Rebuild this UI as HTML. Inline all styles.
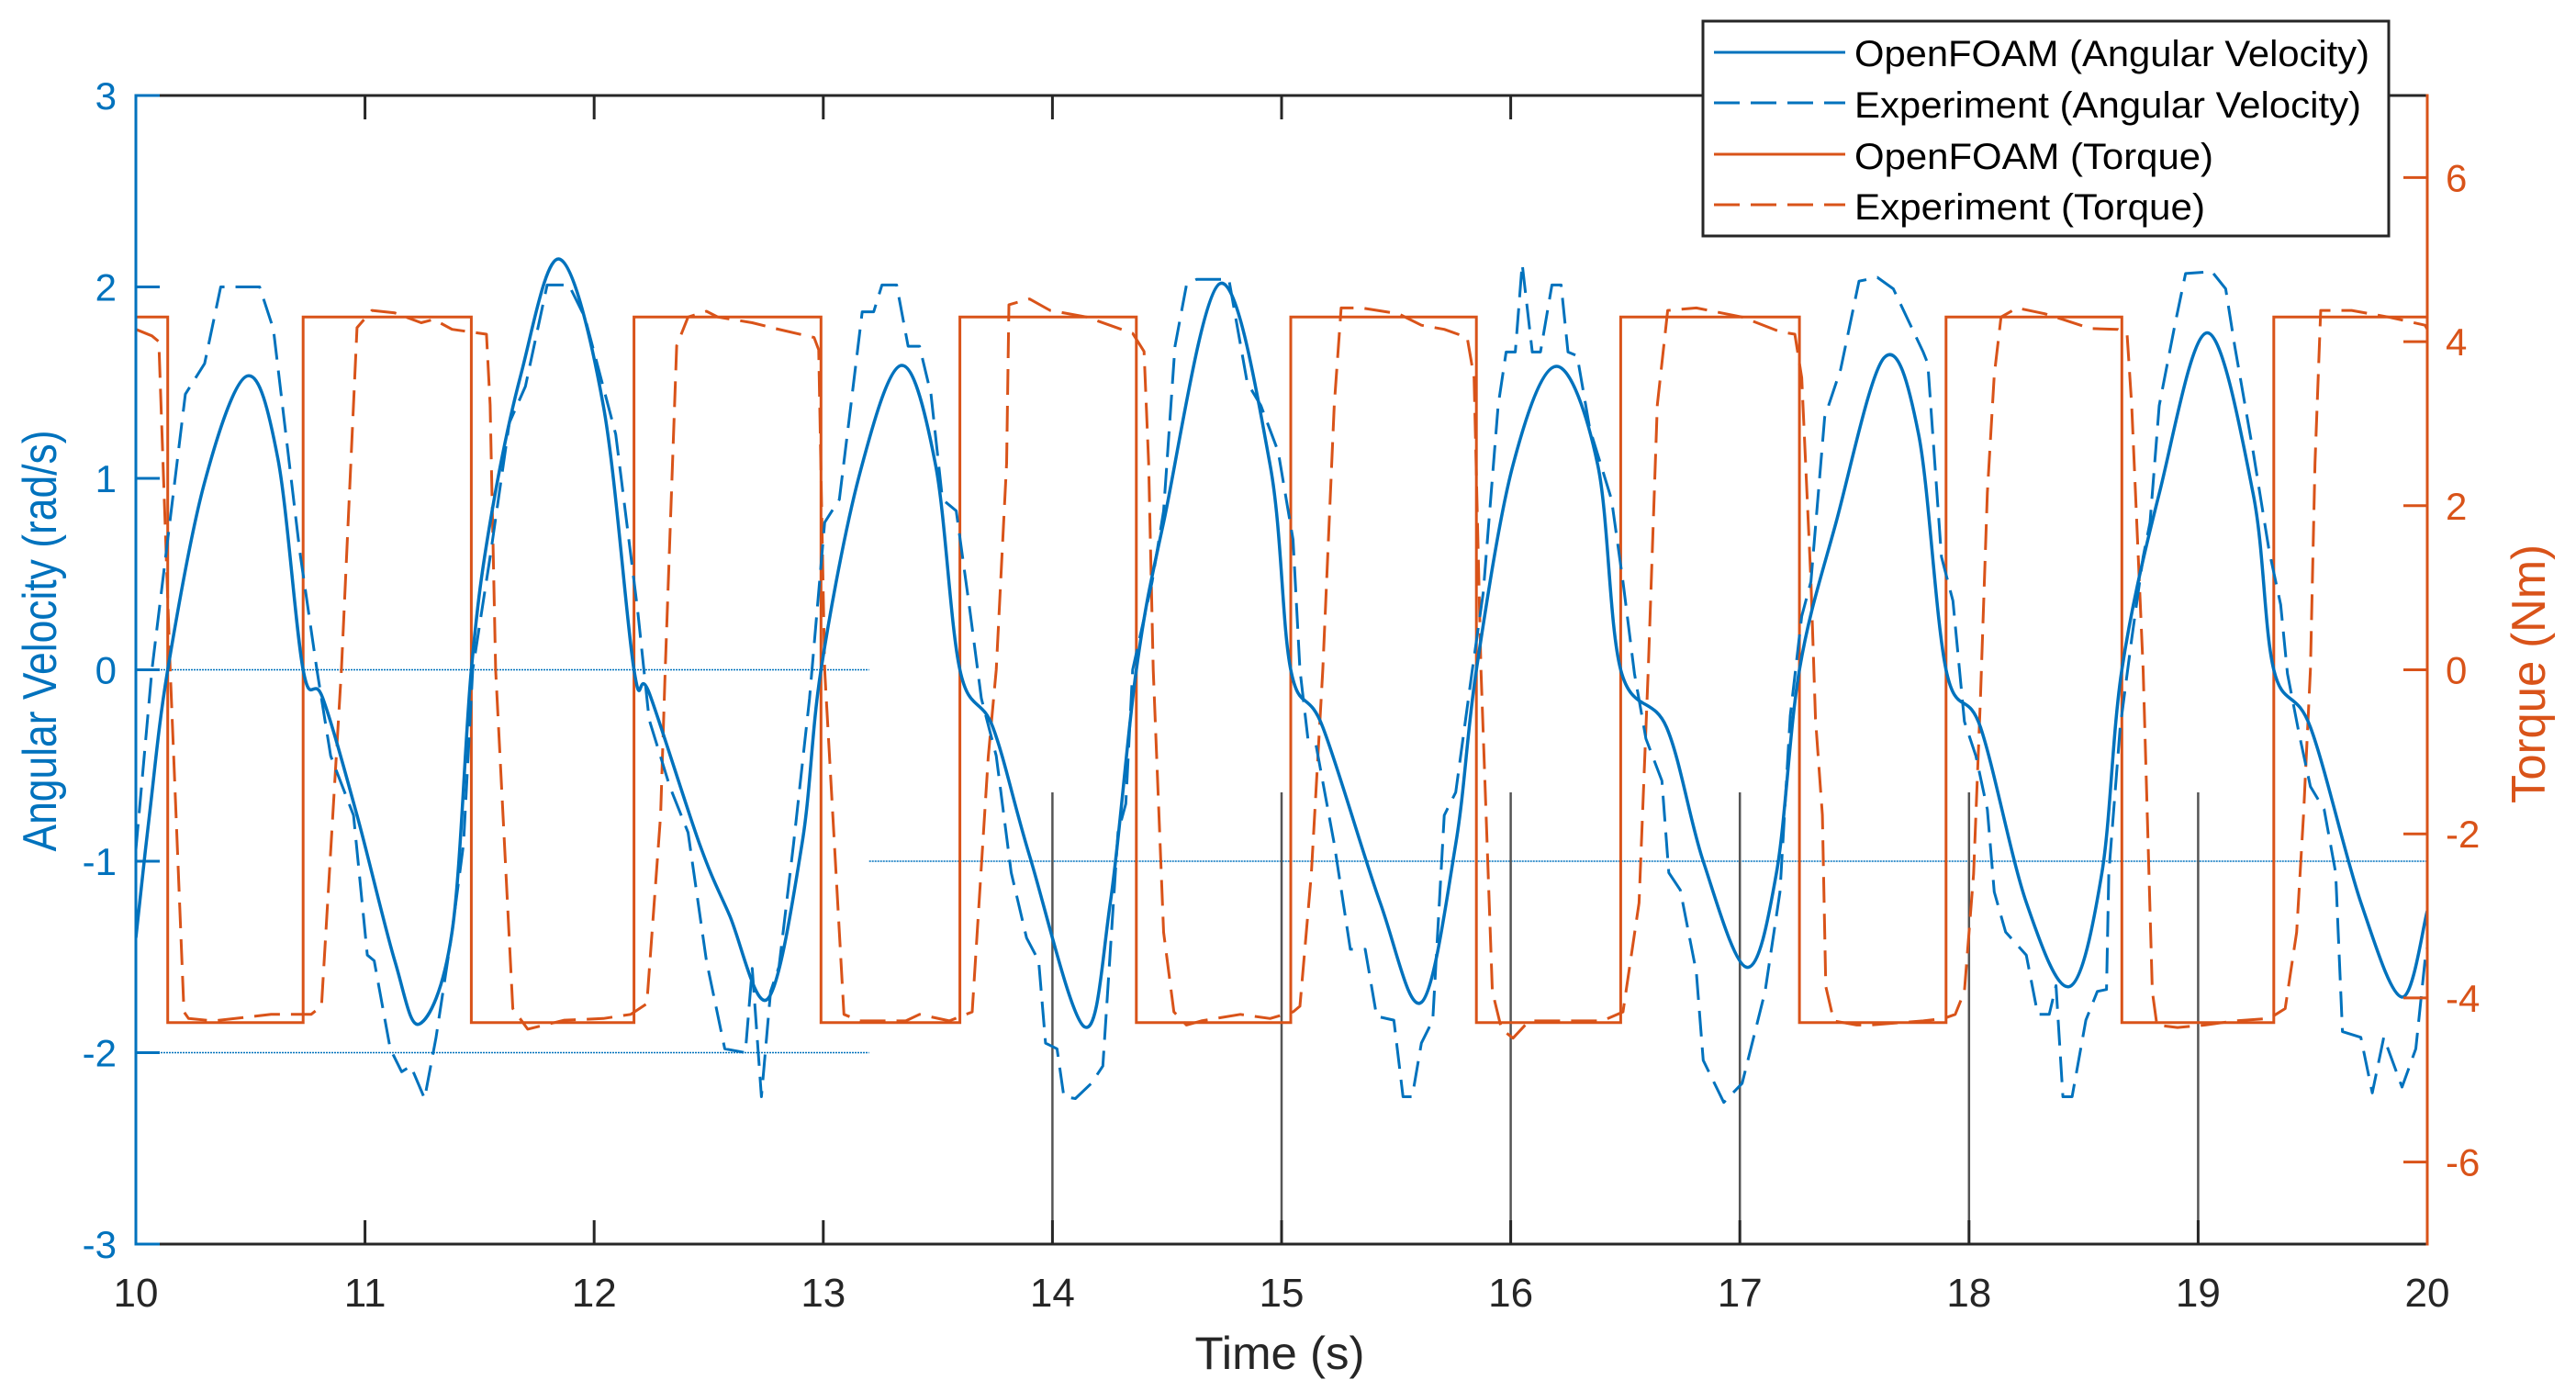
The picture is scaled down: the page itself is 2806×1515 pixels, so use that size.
<!DOCTYPE html>
<html><head><meta charset="utf-8"><title>Angular velocity and torque versus time</title>
<style>
html,body{margin:0;padding:0;background:#fff;}
svg{display:block;font-family:"Liberation Sans",Arial,sans-serif;}
</style></head>
<body>
<svg id="chart" xmlns="http://www.w3.org/2000/svg" width="2806" height="1515" viewBox="0 0 2806 1515">
<rect x="0" y="0" width="2806" height="1515" fill="#fff"/>
<defs><clipPath id="plotclip"><rect x="148" y="104" width="2496" height="1251"/></clipPath></defs>
<g id="grid"></g>
<g id="series" clip-path="url(#plotclip)"></g>
<g id="axes"></g>
<g id="legend">
  <rect x="1855" y="23" width="747" height="234" fill="#fff" stroke="#262626" stroke-width="3"/>
  <line x1="1867" y1="57" x2="2010" y2="57" stroke="#0072BD" stroke-width="3"/>
  <text x="2020" y="72" font-size="40" textLength="561" lengthAdjust="spacingAndGlyphs" fill="#000">OpenFOAM (Angular Velocity)</text>
  <line x1="1867" y1="112" x2="2010" y2="112" stroke="#0072BD" stroke-width="3" stroke-dasharray="28,12"/>
  <text x="2020" y="128" font-size="40" textLength="552" lengthAdjust="spacingAndGlyphs" fill="#000">Experiment (Angular Velocity)</text>
  <line x1="1867" y1="168" x2="2010" y2="168" stroke="#D95319" stroke-width="3"/>
  <text x="2020" y="184" font-size="40" textLength="391" lengthAdjust="spacingAndGlyphs" fill="#000">OpenFOAM (Torque)</text>
  <line x1="1867" y1="223" x2="2010" y2="223" stroke="#D95319" stroke-width="3" stroke-dasharray="28,12"/>
  <text x="2020" y="239" font-size="40" textLength="382" lengthAdjust="spacingAndGlyphs" fill="#000">Experiment (Torque)</text>
</g>
</svg>
<script>
const xTicks = [10,11,12,13,14,15,16,17,18,19,20];
const yLeftTicks = [-3,-2,-1,0,1,2,3];
const yRightTicks = [-6,-4,-2,0,2,4,6];

const simVelT = [10,10.06,10.139,10.3,10.486,10.62,10.73,10.815,10.965,11.13,11.238,11.38,11.464,11.546,11.68,11.85,12.04,12.174,12.24,12.46,12.59,12.757,12.907,12.99,13.156,13.34,13.49,13.596,13.74,13.90,14.14,14.253,14.366,14.485,14.73,14.95,15.04,15.18,15.43,15.61,15.76,15.85,16.01,16.20,16.38,16.48,16.68,16.84,17.03,17.16,17.26,17.42,17.63,17.78,17.90,18.05,18.25,18.44,18.58,18.667,18.83,19.04,19.24,19.33,19.49,19.71,19.89,20];
const simVelV = [-1.40,-0.75,0,0.98,1.535,1.10,0,-0.146,-0.76,-1.52,-1.85,-1.37,0,0.77,1.54,2.145,1.38,0,-0.12,-0.91,-1.28,-1.72,-0.91,0,1.01,1.59,1.07,0,-0.30,-0.97,-1.865,-1.215,0,0.77,2.017,1.07,0,-0.30,-1.215,-1.737,-0.91,0,1.07,1.585,1.07,0,-0.30,-1.0,-1.554,-1.06,0,0.77,1.63,1.23,0,-0.30,-1.215,-1.654,-1.06,0,0.92,1.76,0.92,0,-0.30,-1.215,-1.71,-1.26];

const expVelT = [10,10.07,10.216,10.30,10.37,10.54,10.6,10.715,10.79,10.85,10.95,11.01,11.04,11.11,11.16,11.2,11.26,11.31,11.38,11.43,11.47,11.546,11.63,11.70,11.795,11.89,11.96,12.094,12.19,12.24,12.33,12.41,12.49,12.57,12.66,12.69,12.73,12.77,12.807,12.87,12.94,13.006,13.07,13.12,13.17,13.22,13.256,13.32,13.37,13.42,13.47,13.52,13.58,13.64,13.69,13.755,13.82,13.887,13.94,13.97,14.02,14.05,14.10,14.17,14.22,14.286,14.32,14.35,14.435,14.485,14.535,14.585,14.63,14.77,14.85,14.91,14.985,15.05,15.08,15.115,15.15,15.23,15.30,15.365,15.415,15.49,15.53,15.57,15.61,15.66,15.71,15.76,15.83,15.88,15.945,15.98,16.02,16.05,16.094,16.13,16.18,16.22,16.25,16.29,16.345,16.44,16.49,16.54,16.59,16.66,16.69,16.74,16.81,16.84,16.93,17.01,17.11,17.175,17.22,17.27,17.31,17.37,17.44,17.52,17.60,17.67,17.80,17.82,17.88,17.93,17.98,18.03,18.08,18.11,18.16,18.25,18.30,18.35,18.38,18.41,18.45,18.51,18.56,18.60,18.61,18.66,18.71,18.76,18.79,18.83,18.90,18.945,19.06,19.12,19.16,19.24,19.31,19.36,19.39,19.44,19.49,19.55,19.60,19.63,19.71,19.76,19.81,19.89,19.95,19.99,20];
const expVelV = [-0.94,0,1.44,1.6,2.0,2.0,1.78,0.62,0,-0.45,-0.76,-1.49,-1.52,-1.98,-2.1,-2.07,-2.24,-1.92,-1.37,-0.91,0,0.59,1.29,1.48,2.01,2.01,1.84,1.23,0.31,-0.26,-0.61,-0.85,-1.52,-1.98,-2.0,-1.56,-2.23,-1.68,-1.55,-0.91,-0.15,0.77,0.89,1.38,1.87,1.87,2.01,2.01,1.69,1.69,1.44,0.89,0.83,0.31,-0.15,-0.45,-1.06,-1.40,-1.52,-1.95,-1.98,-2.23,-2.24,-2.16,-2.07,-0.85,-0.7,0.0,0.46,0.83,1.69,2.01,2.04,2.04,1.50,1.38,1.14,0.68,0.0,-0.36,-0.39,-0.91,-1.46,-1.46,-1.81,-1.83,-2.23,-2.23,-1.95,-1.83,-0.76,-0.64,-0.02,0.40,1.38,1.66,1.66,2.12,1.66,1.66,2.01,2.01,1.66,1.64,1.26,0.89,0.46,-0.02,-0.36,-0.58,-1.06,-1.15,-1.58,-2.04,-2.26,-2.16,-1.68,-1.16,-0.24,0.28,0.46,1.32,1.57,2.03,2.05,1.99,1.66,1.60,0.59,0.36,-0.27,-0.45,-0.73,-1.16,-1.37,-1.49,-1.80,-1.80,-1.65,-2.23,-2.23,-1.83,-1.68,-1.67,-1.06,-0.30,0.16,0.59,0.77,1.38,1.81,2.07,2.08,1.99,1.69,1.14,0.62,0.34,-0.02,-0.33,-0.61,-0.73,-1.06,-1.89,-1.92,-2.21,-1.92,-2.18,-1.98,-1.52,-1.45];

const simTorqueSwitchT = [10.139,10.73,11.464,12.174,12.99,13.596,14.366,15.04,15.85,16.48,17.26,17.90,18.667,19.33];
const simTorqueLevels = [4.3,-4.3];

const expTorqueT = [10,10.07,10.10,10.15,10.21,10.23,10.34,10.59,10.765,10.81,10.897,10.965,11.03,11.13,11.245,11.30,11.38,11.53,11.546,11.57,11.645,11.71,11.87,12.04,12.16,12.23,12.29,12.31,12.36,12.41,12.49,12.54,12.69,12.79,12.96,12.98,13.006,13.09,13.16,13.36,13.42,13.55,13.65,13.72,13.755,13.80,13.81,13.90,13.99,14.15,14.25,14.35,14.40,14.42,14.44,14.485,14.53,14.585,14.65,14.82,14.95,15.05,15.08,15.13,15.18,15.23,15.26,15.35,15.51,15.61,15.71,15.81,15.84,15.87,15.92,15.96,16.01,16.08,16.22,16.40,16.49,16.56,16.60,16.64,16.685,16.81,17.01,17.175,17.24,17.27,17.31,17.33,17.36,17.375,17.41,17.51,17.57,17.80,17.89,17.94,17.98,18.02,18.05,18.08,18.11,18.14,18.21,18.33,18.41,18.53,18.65,18.69,18.71,18.76,18.80,18.82,18.91,19.03,19.16,19.31,19.38,19.43,19.46,19.49,19.51,19.535,19.67,19.83,19.99,20];
const expTorqueV = [4.15,4.07,4.0,0,-4.17,-4.25,-4.28,-4.2,-4.2,-4.1,0,4.17,4.38,4.35,4.23,4.27,4.15,4.09,3.23,0,-4.13,-4.38,-4.27,-4.25,-4.2,-4.07,-1.77,0,3.95,4.3,4.37,4.30,4.23,4.16,4.05,3.9,0,-4.2,-4.28,-4.28,-4.2,-4.28,-4.17,-1.06,0,2.52,4.45,4.52,4.38,4.30,4.2,4.1,3.88,2.52,0,-3.2,-4.17,-4.33,-4.28,-4.2,-4.25,-4.17,-4.1,-2.49,0,3.23,4.41,4.41,4.34,4.2,4.15,4.05,3.56,0,-3.92,-4.38,-4.49,-4.28,-4.28,-4.28,-4.17,-2.84,0,3.23,4.38,4.41,4.30,4.12,4.09,3.56,1.09,-0.6,-1.77,-3.86,-4.28,-4.33,-4.33,-4.28,-4.25,-4.2,-3.92,-2.49,-0.34,2.16,3.59,4.3,4.41,4.34,4.27,4.16,4.15,4.09,3.23,0,-3.92,-4.33,-4.36,-4.33,-4.28,-4.25,-4.13,-3.2,-1.77,0,2.52,4.38,4.38,4.3,4.2,4.15];

const refH = [{v:0,t0:10,t1:13.2},{v:-2,t0:10,t1:13.2},{v:-1,t0:13.2,t1:20}];
const refVT = [14,15,16,17,18,19];
const refVTop = -0.64;

const NS = "http://www.w3.org/2000/svg";
const PL = 148, PR = 2644, PT = 104, PB = 1355;
const BLUE = "#0072BD", ORANGE = "#D95319", DARK = "#262626";
function xS(t){ return PL + (t - 10) / 10 * (PR - PL); }
function yL(v){ return PT + (3 - v) / 6 * (PB - PT); }
function yR(v){ return PT + (7 - v) / 14 * (PB - PT); }
function mk(tag, attrs, parent){
  const e = document.createElementNS(NS, tag);
  for (const k in attrs) e.setAttribute(k, attrs[k]);
  parent.appendChild(e);
  return e;
}
function pairs(ts, vs, fy){
  const n = Math.min(ts.length, vs.length);
  const out = [];
  for (let i = 0; i < n; i++) out.push([xS(ts[i]), fy(vs[i])]);
  return out;
}
const gridG = document.getElementById('grid');
const seriesG = document.getElementById('series');
const axesG = document.getElementById('axes');

refH.forEach(function(r){
  const l = mk('line', {x1:xS(r.t0), x2:xS(r.t1), y1:yL(r.v), y2:yL(r.v), stroke:BLUE, 'stroke-width':1.5, 'stroke-dasharray':'2,1'}, gridG);
  
  
});
refVT.forEach(function(t){
  const l = mk('line', {x1:xS(t), x2:xS(t), y1:yL(refVTop), y2:PB, stroke:'#555', 'stroke-width':2.5}, gridG);
  
  
});

function smoothPath(px){
  let d = 'M' + px[0][0].toFixed(1) + ',' + px[0][1].toFixed(1);
  for (let i = 0; i < px.length - 1; i++){
    const p0 = px[Math.max(0,i-1)], p1 = px[i], p2 = px[i+1], p3 = px[Math.min(px.length-1,i+2)];
    const c1x = p1[0] + (p2[0]-p0[0])/6, c1y = p1[1] + (p2[1]-p0[1])/6;
    const c2x = p2[0] - (p3[0]-p1[0])/6, c2y = p2[1] - (p3[1]-p1[1])/6;
    d += ' C' + c1x.toFixed(1)+','+c1y.toFixed(1)+' '+c2x.toFixed(1)+','+c2y.toFixed(1)+' '+p2[0].toFixed(1)+','+p2[1].toFixed(1);
  }
  return d;
}
function linePath(px){
  return px.map(function(p,i){ return (i?'L':'M') + p[0].toFixed(1) + ',' + p[1].toFixed(1); }).join(' ');
}

let tpts = [];
let lvl = 0;
tpts.push([xS(10), yR(simTorqueLevels[lvl])]);
simTorqueSwitchT.forEach(function(t){
  tpts.push([xS(t), yR(simTorqueLevels[lvl])]);
  lvl = 1 - lvl;
  tpts.push([xS(t), yR(simTorqueLevels[lvl])]);
});
tpts.push([xS(20), yR(simTorqueLevels[lvl])]);
const st = mk('path', {d:linePath(tpts), fill:'none', stroke:ORANGE, 'stroke-width':3}, seriesG);



const et = mk('path', {d:linePath(pairs(expTorqueT, expTorqueV, yR)), fill:'none', stroke:ORANGE, 'stroke-width':3, 'stroke-dasharray':'28,12', 'stroke-linejoin':'round'}, seriesG);



const ev = mk('path', {d:linePath(pairs(expVelT, expVelV, yL)), fill:'none', stroke:BLUE, 'stroke-width':3, 'stroke-dasharray':'28,12', 'stroke-linejoin':'round'}, seriesG);



const sv = mk('path', {d:smoothPath(pairs(simVelT, simVelV, yL)), fill:'none', stroke:BLUE, 'stroke-width':3.5}, seriesG);



const topBorder = mk('line', {x1:PL, x2:PR, y1:PT, y2:PT, stroke:DARK, 'stroke-width':3}, axesG);


const bottomAxis = mk('line', {x1:PL, x2:PR, y1:PB, y2:PB, stroke:DARK, 'stroke-width':3}, axesG);


const leftAxis = mk('line', {x1:PL, x2:PL, y1:PT-1.5, y2:PB+1.5, stroke:BLUE, 'stroke-width':3}, axesG);


const rightAxis = mk('line', {x1:PR, x2:PR, y1:PT-1.5, y2:PB+1.5, stroke:ORANGE, 'stroke-width':3}, axesG);



xTicks.forEach(function(t){
  const x = xS(t);
  if (t > 10 && t < 20){
    const a = mk('line', {x1:x, x2:x, y1:PB, y2:PB-26, stroke:DARK, 'stroke-width':3}, axesG);
    
    
    const b = mk('line', {x1:x, x2:x, y1:PT, y2:PT+26, stroke:DARK, 'stroke-width':3}, axesG);
    
    
  }
  const lb = mk('text', {x:x, y:1423, 'text-anchor':'middle', 'font-size':44, fill:DARK}, axesG);
  lb.textContent = String(t);
  
  
});
yLeftTicks.forEach(function(v){
  const y = yL(v);
  const a = mk('line', {x1:PL, x2:PL+26, y1:y, y2:y, stroke:BLUE, 'stroke-width':3}, axesG);
  
  
  const lb = mk('text', {x:127, y:y+15, 'text-anchor':'end', 'font-size':42, fill:BLUE}, axesG);
  lb.textContent = String(v);
  
  
});
yRightTicks.forEach(function(v){
  const y = yR(v);
  const a = mk('line', {x1:PR, x2:PR-26, y1:y, y2:y, stroke:ORANGE, 'stroke-width':3}, axesG);
  
  
  const lb = mk('text', {x:2664, y:y+15, 'text-anchor':'start', 'font-size':42, fill:ORANGE}, axesG);
  lb.textContent = String(v);
  
  
});

const xt = mk('text', {x:1394, y:1491, 'text-anchor':'middle', 'font-size':50, fill:DARK, textLength:185, lengthAdjust:'spacingAndGlyphs'}, axesG);
xt.textContent = 'Time (s)';


const yt = mk('text', {x:0, y:0, 'text-anchor':'middle', 'font-size':52, fill:BLUE, textLength:459, lengthAdjust:'spacingAndGlyphs', transform:'translate(61,698) rotate(-90)'}, axesG);
yt.textContent = 'Angular Velocity (rad/s)';


const rt = mk('text', {x:0, y:0, 'text-anchor':'middle', 'font-size':52, fill:ORANGE, textLength:282, lengthAdjust:'spacingAndGlyphs', transform:'translate(2772,734) rotate(-90)'}, axesG);
rt.textContent = 'Torque (Nm)';


</script>
</body></html>
